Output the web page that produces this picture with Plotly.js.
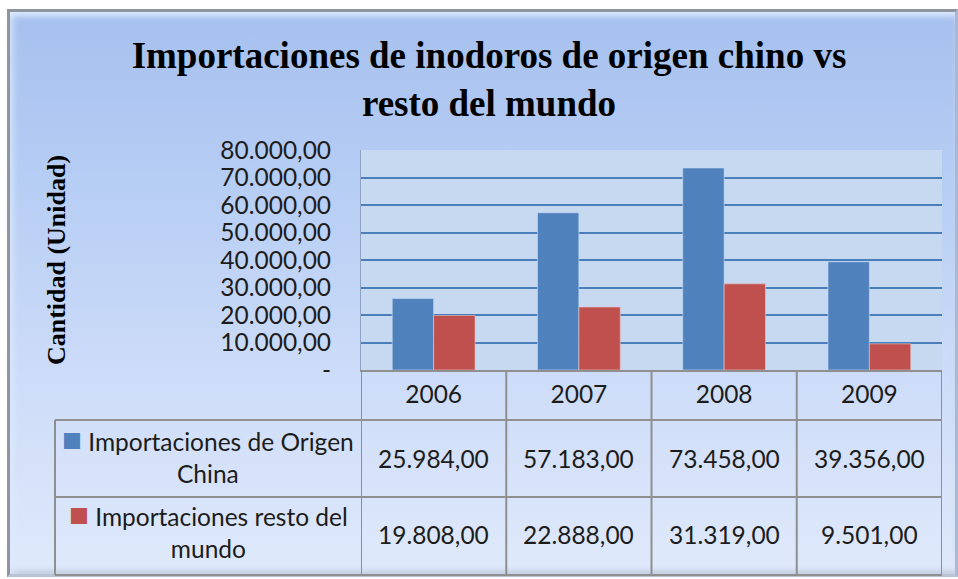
<!DOCTYPE html>
<html><head><meta charset="utf-8">
<script src="https://cdn.plot.ly/plotly-3.0.1.min.js"></script>
<style>
html,body{margin:0;padding:0;background:#fff;}
#wrap{position:relative;width:958px;height:579px;overflow:hidden;background:#fff;}
#frame{position:absolute;left:7px;top:9px;width:945px;height:562px;
 border-left:3px solid #8f959e;border-top:3px solid #8f959e;border-right:3px solid #a9b8d3;border-bottom:3px solid #b8c3d6;
 background:linear-gradient(to bottom,#a6c0ee 0%,#b6cdf4 30%,#cddcf8 65%,#dfe9fb 100%);
 box-shadow: inset 0 6px 6px -2px rgba(225,238,255,0.9), inset 6px 0 6px -2px rgba(225,238,255,0.6), inset 0 -5px 5px -2px rgba(160,170,190,0.5);}
#chart{position:absolute;left:0;top:0;width:958px;height:579px;}
</style></head>
<body><div id="wrap"><div id="frame"></div><div id="chart"></div></div>
<script>
// ---- data ----
const years = ['2006', '2007', '2008', '2009'];
const chinaValues = [25984, 57183, 73458, 39356];
const restValues = [19808, 22888, 31319, 9501];
const chinaName = 'Importaciones de Origen China';
const restName = 'Importaciones resto del mundo';
const chinaLabel = 'Importaciones de Origen<br>China';
const restLabel = 'Importaciones resto del<br>mundo';
const yTickVals = [0, 10000, 20000, 30000, 40000, 50000, 60000, 70000, 80000];
const yTickText = ['-', '10.000,00', '20.000,00', '30.000,00', '40.000,00', '50.000,00', '60.000,00', '70.000,00', '80.000,00'];
const titleText = 'Importaciones de inodoros de origen chino vs<br>resto del mundo';
const yTitleText = 'Cantidad (Unidad)';

// ---- helpers ----
const W = 958, H = 579;
const px = x => x / W;
const py = y => 1 - y / H;
function fmt(v) {
  const parts = v.toFixed(2).split('.');
  return parts[0].replace(/\B(?=(\d{3})+(?!\d))/g, '.') + ',' + parts[1];
}
const blue = '#4F81BD', red = '#C0504D';
const sansFont = 'Lato, "Open Sans", sans-serif';
const serifFont = '"Liberation Serif", "Times New Roman", serif';
const txtColor = '#1c1c1c';
const gridGray = '#8f8f8f';

// plot/table geometry (pixels)
const plotL = 361, plotR = 942, plotT = 150, plotB = 370;
const tblL = 55, hdrB = 420, row1B = 497, row2B = 575;

const traces = [
  {type: 'bar', name: chinaName, x: years, y: chinaValues,
   marker: {color: blue, line: {color: 'rgba(200,220,245,0.6)', width: 1}}, hoverinfo: 'x+y'},
  {type: 'bar', name: restName, x: years, y: restValues,
   marker: {color: red, line: {color: 'rgba(230,200,200,0.6)', width: 1}}, hoverinfo: 'x+y'}
];

const shapes = [];
for (let i = 0; i <= years.length; i++) {
  shapes.push({type: 'line', xref: 'x', yref: 'paper', x0: i - 0.5, x1: i - 0.5,
    y0: py(row2B), y1: py(plotB), line: {color: gridGray, width: 2}});
}
shapes.push({type: 'line', xref: 'paper', yref: 'paper', x0: px(tblL), x1: px(tblL),
  y0: py(row2B), y1: py(hdrB), line: {color: gridGray, width: 2}});
[hdrB, row1B, row2B].forEach(yy => shapes.push({type: 'line', xref: 'paper', yref: 'paper',
  x0: px(tblL), x1: px(plotR), y0: py(yy), y1: py(yy), line: {color: gridGray, width: 2}}));

const annotations = [];
const rows = [
  {label: chinaLabel, color: blue, values: chinaValues, center: (hdrB + row1B) / 2},
  {label: restLabel, color: red, values: restValues, center: (row1B + row2B) / 2 - 2}
];
rows.forEach(r => {
  annotations.push({xref: 'paper', yref: 'paper', x: px((tblL + plotL) / 2), y: py(r.center - 6),
    text: '<span style="color:' + r.color + ';font-size:33px">■</span> ' + r.label,
    showarrow: false, align: 'center', xanchor: 'center', yanchor: 'middle',
    font: {family: sansFont, size: 24.5, color: txtColor}});
  r.values.forEach((v, i) => annotations.push({xref: 'x', yref: 'paper', x: i, y: py(r.center),
    text: fmt(v), showarrow: false, xanchor: 'center', yanchor: 'middle',
    font: {family: sansFont, size: 24.5, color: txtColor}}));
});

const layout = {
  width: W, height: H,
  margin: {l: 0, r: 0, t: 0, b: 0},
  paper_bgcolor: 'rgba(0,0,0,0)',
  plot_bgcolor: '#C6D9F1',
  showlegend: false,
  barmode: 'group', bargap: 0.43, bargroupgap: 0,
  title: {text: titleText, x: px(489), xanchor: 'center', y: 1 - 68 / H, yanchor: 'top', yref: 'container',
    font: {family: serifFont, size: 37, weight: 'bold', color: '#000'}},
  xaxis: {domain: [px(plotL), px(plotR)], type: 'category', range: [-0.5, years.length - 0.5],
    showgrid: false, showline: true, linecolor: gridGray, linewidth: 2, ticks: '', ticklabelstandoff: 2,
    tickfont: {family: sansFont, size: 24.5, color: txtColor}, fixedrange: true},
  yaxis: {domain: [py(plotB), py(plotT)], range: [0, 80000], tickvals: yTickVals, ticktext: yTickText,
    showgrid: true, gridcolor: '#4A7EBB', gridwidth: 1.5, zeroline: false,
    showline: true, linecolor: '#8EA3C2', linewidth: 1,
    ticks: 'outside', ticklen: 24, tickcolor: 'rgba(0,0,0,0)',
    tickfont: {family: sansFont, size: 24.5, color: txtColor}, fixedrange: true,
    title: {text: yTitleText, standoff: 147,
      font: {family: serifFont, size: 26, weight: 'bold', color: '#000'}}},
  shapes: shapes,
  annotations: annotations
};

Plotly.newPlot('chart', traces, layout, {displayModeBar: false, responsive: false});
</script>
</body></html>
